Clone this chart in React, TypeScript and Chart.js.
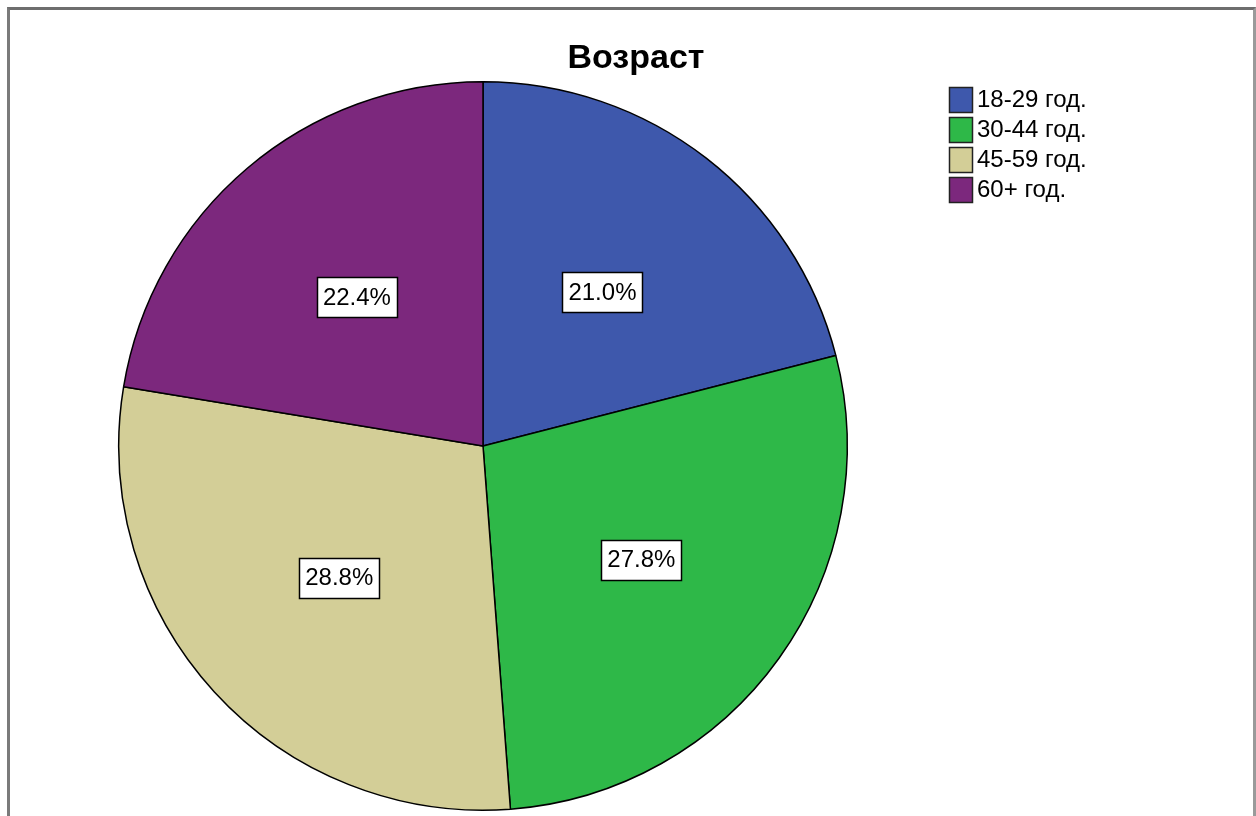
import React, { useEffect, useRef } from "react";
import { Chart, registerables } from "chart.js";

Chart.register(...registerables);

const chartTitle = "Возраст";
const categories = ["18-29 год.", "30-44 год.", "45-59 год.", "60+ год."];
const percentValues = [21.0, 27.8, 28.8, 22.4];
const sliceColors = ["#3e58ac", "#2eb848", "#d3ce97", "#7c287d"];

const FONT = "'Liberation Sans', Arial, sans-serif";

const titlePlugin = {
  id: "customTitle",
  afterDraw(chart: any) {
    const ctx = chart.ctx;
    ctx.save();
    ctx.fillStyle = "#000";
    ctx.font = `bold 34px ${FONT}`;
    ctx.textAlign = "center";
    ctx.textBaseline = "alphabetic";
    ctx.fillText(chartTitle, 636, 68);
    ctx.restore();
  },
};

const legendPlugin = {
  id: "customLegend",
  afterDraw(chart: any) {
    const ctx = chart.ctx;
    const labels = chart.data.labels as string[];
    const colors = chart.data.datasets[0].backgroundColor as string[];
    ctx.save();
    labels.forEach((lab, i) => {
      const y = 87 + i * 30;
      ctx.fillStyle = colors[i];
      ctx.fillRect(949, y, 24, 26);
      ctx.strokeStyle = "#222";
      ctx.lineWidth = 1.5;
      ctx.strokeRect(949.5, y + 0.5, 23, 25);
      ctx.fillStyle = "#000";
      ctx.font = `24px ${FONT}`;
      ctx.textAlign = "left";
      ctx.textBaseline = "alphabetic";
      ctx.fillText(lab, 977, y + 20);
    });
    ctx.restore();
  },
};

const sliceLabelPlugin = {
  id: "sliceLabels",
  afterDatasetsDraw(chart: any) {
    const ctx = chart.ctx;
    const meta = chart.getDatasetMeta(0);
    const data = chart.data.datasets[0].data as number[];
    const total = data.reduce((a, b) => a + b, 0);
    ctx.save();
    ctx.font = `24px ${FONT}`;
    ctx.textAlign = "center";
    ctx.textBaseline = "middle";
    meta.data.forEach((arc: any, i: number) => {
      const { x, y, startAngle, endAngle, outerRadius } = arc.getProps(
        ["x", "y", "startAngle", "endAngle", "outerRadius"],
        true
      );
      const mid = (startAngle + endAngle) / 2;
      const d = outerRadius * 0.535;
      const cx = x + Math.cos(mid) * d;
      const cy = y + Math.sin(mid) * d;
      const text = ((data[i] / total) * 100).toFixed(1) + "%";
      const w = Math.round(ctx.measureText(text).width + 12);
      const h = 40;
      const bx = Math.round(cx - w / 2);
      const by = Math.round(cy - h / 2);
      ctx.fillStyle = "#fff";
      ctx.fillRect(bx, by, w, h);
      ctx.strokeStyle = "#000";
      ctx.lineWidth = 1.5;
      ctx.strokeRect(bx + 0.5, by + 0.5, w, h);
      ctx.fillStyle = "#000";
      ctx.fillText(text, cx, cy + 1);
    });
    ctx.restore();
  },
};

export default function App() {
  const canvasRef = useRef<HTMLCanvasElement | null>(null);

  useEffect(() => {
    if (!canvasRef.current) return;
    const chart = new Chart(canvasRef.current, {
      type: "pie",
      data: {
        labels: categories,
        datasets: [
          {
            data: percentValues,
            backgroundColor: sliceColors,
            borderColor: "#000",
            borderWidth: 1.5,
          },
        ],
      },
      options: {
        responsive: false,
        animation: false,
        devicePixelRatio: 1,
        layout: { padding: { left: 118, right: 408, top: 81, bottom: 5 } },
        plugins: {
          legend: { display: false },
          title: { display: false },
          tooltip: { enabled: false },
        },
      },
      plugins: [titlePlugin, legendPlugin, sliceLabelPlugin],
    });
    return () => chart.destroy();
  }, []);

  return (
    <div
      style={{
        position: "fixed",
        left: 0,
        top: 0,
        width: 1256,
        height: 816,
        background: "#fff",
        overflow: "hidden",
      }}
    >
      <div
        style={{
          position: "absolute",
          left: 7,
          top: 7,
          width: 1249,
          height: 900,
          boxSizing: "border-box",
          borderLeft: "3px solid #7a7a7a",
          borderTop: "3px solid #6e6e6e",
          borderRight: "3px solid #9a9a9a",
        }}
      />
      <canvas
        ref={canvasRef}
        width={1256}
        height={816}
        style={{ position: "absolute", left: 0, top: 0, width: 1256, height: 816 }}
      />
    </div>
  );
}
